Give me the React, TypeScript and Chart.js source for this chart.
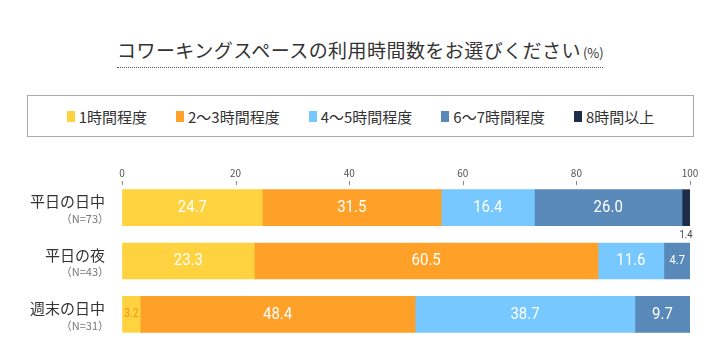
import React, { useEffect, useRef } from "react";
import { Chart, registerables } from "chart.js";

Chart.register(...registerables);

const categories = ["平日の日中", "平日の夜", "週末の日中"];
const sampleSizes = ["（N=73）", "（N=43）", "（N=31）"];
const seriesLabels = ["1時間程度", "2〜3時間程度", "4〜5時間程度", "6〜7時間程度", "8時間以上"];
const seriesColors = ["#FFD23F", "#FFA128", "#76C8FE", "#5989B9", "#1F2E48"];
const s1 = [24.7, 23.3, 3.2];
const s2 = [31.5, 60.5, 48.4];
const s3 = [16.4, 11.6, 38.7];
const s4 = [26.0, 4.7, 9.7];
const s5 = [1.4, 0, 0];
const seriesValues = [s1, s2, s3, s4, s5];
const titleText = "コワーキングスペースの利用時間数をお選びください";
const unitText = "(%)";

const FONT = "'Noto Sans CJK JP', 'Noto Sans', sans-serif";
const NUMFONT = "Roboto, 'Liberation Sans', sans-serif";

function narrowText(ctx: any, txt: string, x: number, y: number, sx: number) {
  ctx.save();
  ctx.translate(x, y);
  ctx.scale(sx, 1);
  ctx.fillText(txt, 0, 0);
  ctx.restore();
}

const labelsPlugin = {
  id: "customLabels",
  afterDatasetsDraw(chart: any) {
    const ctx = chart.ctx;
    ctx.save();
    // tick marks just below the axis
    const xs = chart.scales.x;
    ctx.strokeStyle = "#888";
    ctx.lineWidth = 1;
    xs.ticks.forEach((t: any) => {
      const px = Math.round(xs.getPixelForValue(t.value)) + 0.5;
      ctx.beginPath();
      ctx.moveTo(px, chart.chartArea.top);
      ctx.lineTo(px, chart.chartArea.top + 4);
      ctx.stroke();
    });
    chart.data.datasets.forEach((ds: any, di: number) => {
      const meta = chart.getDatasetMeta(di);
      meta.data.forEach((bar: any, i: number) => {
        const v = ds.data[i];
        if (!v) return;
        const left = Math.min(bar.x, bar.base);
        const right = Math.max(bar.x, bar.base);
        const cx = (left + right) / 2;
        const txt = v.toFixed(1);
        ctx.textBaseline = "middle";
        ctx.textAlign = "center";
        if (v < 2) {
          ctx.fillStyle = "#444";
          ctx.font = `11px ${NUMFONT}`;
          narrowText(ctx, txt, cx, bar.y + bar.height / 2 + 10, 0.85);
        } else if (v < 4) {
          ctx.fillStyle = "#F7931E";
          ctx.font = `12px ${NUMFONT}`;
          narrowText(ctx, txt, cx, bar.y, 0.85);
        } else if (v < 6) {
          ctx.fillStyle = "#fff";
          ctx.font = `13px ${NUMFONT}`;
          narrowText(ctx, txt, cx, bar.y, 0.85);
        } else {
          ctx.fillStyle = "#fff";
          ctx.font = `17px ${NUMFONT}`;
          narrowText(ctx, txt, cx, bar.y, 0.88);
        }
      });
    });
    // category labels
    const meta0 = chart.getDatasetMeta(0);
    const x = chart.chartArea.left - 17;
    categories.forEach((c, i) => {
      const bar = meta0.data[i];
      ctx.textAlign = "right";
      ctx.textBaseline = "middle";
      ctx.fillStyle = "#333";
      ctx.font = `15px ${FONT}`;
      ctx.fillText(c, x, bar.y - 6);
      ctx.fillStyle = "#777";
      ctx.font = `11px ${FONT}`;
      ctx.fillText(sampleSizes[i], x + 4, bar.y + 11);
    });
    ctx.restore();
  },
};

export default function App() {
  const ref = useRef<HTMLCanvasElement>(null);
  useEffect(() => {
    const chart = new Chart(ref.current!, {
      type: "bar",
      data: {
        labels: categories,
        datasets: seriesValues.map((d, i) => ({
          label: seriesLabels[i],
          data: d,
          backgroundColor: seriesColors[i],
          borderWidth: 0,
          barThickness: 36,
        })),
      },
      options: {
        indexAxis: "y",
        animation: false,
        responsive: false,
        maintainAspectRatio: false,
        layout: { padding: { left: 122, right: 30, top: 15, bottom: 21 } },
        plugins: { legend: { display: false }, tooltip: { enabled: false } },
        scales: {
          x: {
            position: "top",
            stacked: true,
            min: 0,
            max: 100,
            ticks: { stepSize: 20, color: "#555", font: { size: 10, family: FONT }, padding: 2 },
            grid: { drawOnChartArea: false, drawTicks: false },
            border: { display: false },
          },
          y: {
            stacked: true,
            display: false,
          },
        },
      },
      plugins: [labelsPlugin],
    });
    return () => chart.destroy();
  }, []);

  return (
    <div style={{ position: "absolute", left: 0, top: 0, width: 720, height: 362, background: "#fff", fontFamily: FONT, overflow: "hidden" }}>
      <div style={{ position: "absolute", left: 117, top: 34, width: 486, height: 33, borderBottom: "1px dotted #555", textAlign: "center", color: "#333", whiteSpace: "nowrap" }}>
        <span style={{ fontSize: 19, lineHeight: "32px", letterSpacing: "0.45px" }}>{titleText}</span>
        <span style={{ fontSize: 13, marginLeft: 2 }}>{unitText}</span>
      </div>
      <div style={{ position: "absolute", left: 27, top: 95, width: 665, height: 40, border: "1px solid #aaa", display: "flex", justifyContent: "center", alignItems: "center", gap: 29 }}>
        {seriesLabels.map((l, i) => (
          <div key={l} style={{ display: "flex", alignItems: "center", fontSize: 15, color: "#333" }}>
            <span style={{ display: "inline-block", width: 8, height: 11, background: seriesColors[i], marginRight: 4 }} />
            <span>{l}</span>
          </div>
        ))}
      </div>
      <canvas ref={ref} width={720} height={212} style={{ position: "absolute", left: 0, top: 150, width: 720, height: 212 }} />
    </div>
  );
}
